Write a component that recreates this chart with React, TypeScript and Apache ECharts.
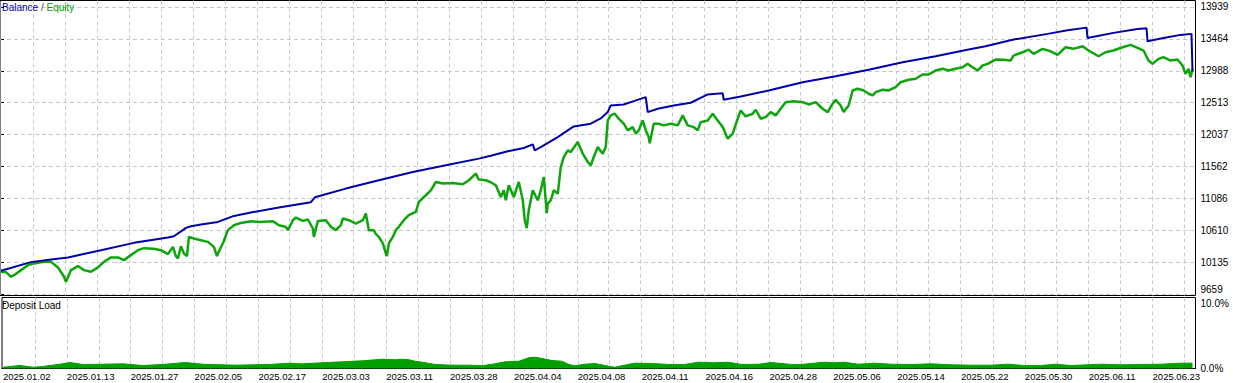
import React, { useEffect, useRef } from "react";
import * as echarts from "echarts";

const FONT = "'Liberation Sans', Arial, sans-serif";

// Date tick labels along the trade-index axis (one label every LABEL_STEP bars)
const dateLabels = [
  "2025.01.02", "2025.01.13", "2025.01.27", "2025.02.05", "2025.02.17",
  "2025.03.03", "2025.03.11", "2025.03.28", "2025.04.04", "2025.04.08",
  "2025.04.11", "2025.04.16", "2025.04.28", "2025.05.06", "2025.05.14",
  "2025.05.22", "2025.05.30", "2025.06.11", "2025.06.23",
];
const LABEL_STEP = 64;
const GRID_STEP = 32;
const X_MAX = 1195;

const balanceTicks = [9659, 10135, 10610, 11086, 11562, 12037, 12513, 12988, 13464, 13939];
const loadTicks = [0, 10];

// [bar index, balance]
const balance: [number, number][] = [
  [0, 10010], [30, 10139], [50, 10179], [67, 10209], [100, 10317], [133, 10426],
  [167, 10506], [173, 10525], [177, 10566], [182, 10615], [185, 10649], [190, 10674],
  [200, 10699], [217, 10738], [233, 10827], [250, 10878], [278, 10952], [310, 11031],
  [314, 11105], [345, 11234], [378, 11358], [412, 11481], [445, 11581], [478, 11680],
  [490, 11722], [507, 11789], [523, 11838], [532, 11893], [534, 11803], [540, 11853],
  [557, 12001], [567, 12101], [573, 12160], [590, 12200], [600, 12279], [607, 12373],
  [610, 12472], [623, 12487], [633, 12536], [645, 12596], [647, 12373], [657, 12423],
  [673, 12472], [690, 12512], [707, 12636], [722, 12655], [723, 12557], [740, 12606],
  [768, 12695], [802, 12818], [835, 12908], [868, 13003], [902, 13116], [935, 13205],
  [968, 13304], [985, 13354], [1013, 13453], [1047, 13538], [1067, 13591], [1086, 13631],
  [1087, 13478], [1113, 13553], [1137, 13612], [1146, 13621], [1147, 13428], [1163, 13478],
  [1180, 13523], [1191, 13538], [1192, 12978],
];

// [bar index, equity]
const equity: [number, number][] = [
  [0, 9995], [5, 9990], [10, 9921], [13, 9945], [20, 10020], [27, 10094], [33, 10120],
  [43, 10144], [50, 10144], [57, 10060], [63, 9921], [65, 9846], [70, 10020], [77, 10080],
  [83, 10020], [90, 9995], [97, 10060], [103, 10144], [110, 10209], [117, 10209], [123, 10169],
  [130, 10243], [137, 10317], [143, 10347], [153, 10337], [160, 10317], [167, 10258],
  [172, 10366], [175, 10228], [177, 10194], [180, 10376], [183, 10268], [186, 10228],
  [188, 10515], [193, 10491], [200, 10466], [207, 10441], [213, 10366], [216, 10228],
  [217, 10268], [222, 10421], [227, 10615], [233, 10689], [240, 10723], [250, 10748],
  [258, 10738], [272, 10748], [278, 10689], [285, 10664], [287, 10615], [292, 10763],
  [295, 10803], [302, 10753], [307, 10774], [312, 10640], [313, 10515], [317, 10753],
  [325, 10763], [330, 10664], [335, 10615], [340, 10689], [342, 10788], [348, 10763],
  [355, 10714], [362, 10763], [365, 10863], [368, 10615], [373, 10615], [375, 10555],
  [378, 10515], [382, 10417], [385, 10268], [386, 10228], [388, 10417], [392, 10515],
  [395, 10615], [398, 10664], [403, 10763], [408, 10838], [415, 10887], [418, 11035],
  [425, 11135], [430, 11209], [435, 11332], [442, 11309], [452, 11318], [462, 11298],
  [468, 11358], [475, 11457], [478, 11368], [485, 11358], [490, 11328], [495, 11283],
  [500, 11109], [503, 11209], [505, 11060], [508, 11283], [513, 11109], [518, 11332],
  [522, 11060], [524, 10763], [526, 10644], [528, 10912], [532, 11209], [537, 11060],
  [540, 11209], [543, 11407], [546, 10867], [547, 11011], [550, 11060], [553, 11209],
  [557, 11160], [560, 11555], [563, 11704], [567, 11803], [570, 11778], [577, 11927],
  [582, 11754], [587, 11630], [590, 11581], [593, 11704], [597, 11853], [602, 11754],
  [605, 11853], [607, 12249], [610, 12324], [614, 12349], [618, 12275], [623, 12200],
  [627, 12101], [632, 12150], [635, 12052], [638, 12101], [642, 12249], [645, 12101],
  [648, 12001], [649, 11908], [653, 12200], [658, 12200], [663, 12175], [670, 12200],
  [677, 12175], [682, 12324], [687, 12175], [693, 12150], [697, 12101], [700, 12224],
  [707, 12249], [712, 12349], [717, 12249], [722, 12150], [727, 11977], [732, 12052],
  [737, 12275], [740, 12398], [745, 12309], [752, 12349], [755, 12408], [760, 12275],
  [765, 12298], [770, 12373], [775, 12324], [780, 12423], [785, 12521], [793, 12536],
  [802, 12521], [808, 12487], [815, 12521], [822, 12423], [827, 12373], [832, 12498],
  [835, 12557], [840, 12472], [843, 12373], [848, 12472], [852, 12695], [857, 12720],
  [863, 12695], [868, 12646], [872, 12621], [875, 12670], [882, 12706], [888, 12695],
  [895, 12744], [900, 12818], [908, 12854], [915, 12869], [922, 12933], [928, 12933],
  [935, 12992], [942, 13018], [948, 12992], [955, 13018], [962, 13041], [967, 13092],
  [972, 13041], [977, 12992], [982, 13067], [987, 13092], [995, 13156], [1003, 13151],
  [1010, 13141], [1013, 13215], [1022, 13264], [1028, 13304], [1033, 13241], [1042, 13315],
  [1050, 13279], [1057, 13226], [1065, 13339], [1073, 13315], [1082, 13354], [1088, 13290],
  [1098, 13205], [1105, 13264], [1113, 13290], [1122, 13339], [1130, 13374], [1137, 13330],
  [1143, 13290], [1148, 13141], [1152, 13092], [1158, 13166], [1163, 13190], [1170, 13141],
  [1177, 13156], [1182, 13067], [1185, 12943], [1188, 13018], [1190, 12893], [1192, 13018],
];

// [bar index, deposit load %]
const depositLoad: [number, number][] = [
  [0, 0.2], [17, 0.46], [30, 0.2], [40, 0.31], [60, 0.72], [67, 0.92], [80, 0.62],
  [100, 0.66], [120, 0.72], [140, 0.46], [160, 0.62], [183, 0.92], [200, 0.66], [233, 0.51],
  [267, 0.62], [287, 0.82], [300, 0.72], [320, 0.88], [340, 1.03], [360, 1.18], [380, 1.43],
  [393, 1.34], [400, 1.43], [407, 1.34], [413, 1.12], [420, 0.97], [433, 0.62], [450, 0.51],
  [467, 0.51], [480, 0.42], [493, 0.72], [503, 1.03], [517, 1.12], [527, 1.65], [533, 1.74],
  [540, 1.54], [550, 1.23], [560, 1.12], [567, 0.62], [573, 0.42], [583, 0.66], [593, 0.77],
  [607, 0.35], [613, 0.2], [620, 0.42], [633, 0.82], [650, 0.77], [667, 0.62], [683, 0.62],
  [697, 0.97], [713, 0.88], [727, 0.97], [740, 0.62], [757, 0.66], [770, 0.92], [790, 0.62],
  [800, 0.62], [813, 0.82], [823, 0.97], [833, 0.88], [843, 0.97], [857, 0.66], [873, 0.82],
  [890, 0.66], [910, 0.62], [930, 0.72], [950, 0.57], [970, 0.51], [990, 0.51], [1007, 0.66],
  [1023, 0.46], [1040, 0.46], [1055, 0.66], [1070, 0.46], [1100, 0.66], [1120, 0.57],
  [1140, 0.62], [1160, 0.66], [1180, 0.82], [1192, 0.82],
];

const gridXs: number[] = [];
for (let x = GRID_STEP; x < X_MAX; x += GRID_STEP) gridXs.push(x);
const labelXs = dateLabels.map((_, i) => i * LABEL_STEP);
const upperTicks = balanceTicks.slice(1);
const lowestTick = balanceTicks.slice(0, 1);

const gridLine = { show: true, lineStyle: { color: "#C8C8C8", type: [4, 3] as any, width: 1 } };
const axisText = { fontSize: 10, color: "#000", fontFamily: FONT };
const Y_MIN = 9642;
const Y_MAX = 14035;

export default function App() {
  const ref = useRef<HTMLDivElement>(null);
  useEffect(() => {
    document.body.style.margin = "0";
    if (!ref.current) return;
    const chart = echarts.init(ref.current, undefined, { renderer: "svg" });
    chart.setOption({
      animation: false,
      backgroundColor: "#fff",
      title: [
        {
          left: 2,
          top: 2,
          padding: 0,
          text: "{b|Balance} {s|/} {e|Equity}",
          textStyle: {
            fontSize: 10,
            fontFamily: FONT,
            fontWeight: "normal",
            rich: {
              b: { color: "#0000A0", fontSize: 10, fontFamily: FONT },
              s: { color: "#444", fontSize: 10, fontFamily: FONT },
              e: { color: "#00A000", fontSize: 10, fontFamily: FONT },
            },
          },
        },
        {
          left: 2,
          top: 300,
          padding: 0,
          text: "Deposit Load",
          textStyle: { fontSize: 10, fontFamily: FONT, fontWeight: "normal", color: "#000" },
        },
      ],
      grid: [
        { left: -0.5, top: 0.5, width: 1196, height: 295, show: true, borderColor: "#000", borderWidth: 1 },
        { left: -0.5, top: 297.5, width: 1196, height: 71, show: true, borderColor: "#000", borderWidth: 1 },
      ],
      xAxis: [
        {
          type: "value",
          gridIndex: 0,
          min: -1,
          max: X_MAX,
          axisLine: { show: false },
          axisTick: { show: false, customValues: gridXs },
          axisLabel: { show: false },
          splitLine: gridLine,
        },
        {
          type: "value",
          gridIndex: 1,
          min: -1,
          max: X_MAX,
          axisLine: { show: true, onZero: false, lineStyle: { color: "#000", width: 1 } },
          axisTick: { show: false, customValues: gridXs },
          axisLabel: {
            ...axisText,
            fontSize: 9.5,
            customValues: labelXs,
            align: "left",
            margin: 3,
            formatter: (v: number) => dateLabels[Math.round(v / LABEL_STEP)] ?? "",
          },
          splitLine: gridLine,
        },
      ],
      yAxis: [
        {
          type: "value",
          gridIndex: 0,
          position: "right",
          min: Y_MIN,
          max: Y_MAX,
          axisLine: { show: false },
          axisTick: { show: true, length: 3, customValues: balanceTicks, lineStyle: { color: "#000" } },
          axisLabel: { ...axisText, customValues: upperTicks, margin: 5, formatter: (v: number) => String(v) },
          splitLine: gridLine,
        },
        {
          type: "value",
          gridIndex: 1,
          position: "right",
          min: 0,
          max: 10.92,
          axisLine: { show: false },
          axisTick: { show: true, length: 3, customValues: loadTicks, lineStyle: { color: "#000" } },
          axisLabel: { ...axisText, customValues: loadTicks, margin: 5, formatter: (v: number) => v.toFixed(1) + "%" },
          splitLine: { show: false },
        },
        {
          type: "value",
          gridIndex: 0,
          position: "right",
          min: Y_MIN,
          max: Y_MAX,
          axisLine: { show: false },
          axisTick: { show: false, customValues: lowestTick },
          axisLabel: {
            ...axisText,
            customValues: lowestTick,
            margin: 5,
            verticalAlign: "bottom",
            formatter: (v: number) => String(v),
          },
          splitLine: { show: false },
        },
      ],
      series: [
        {
          type: "line",
          name: "Equity",
          xAxisIndex: 0,
          yAxisIndex: 0,
          data: equity,
          showSymbol: false,
          lineStyle: { color: "#0CA60C", width: 2.5 },
          itemStyle: { color: "#0CA60C" },
          z: 2,
        },
        {
          type: "line",
          name: "Balance",
          xAxisIndex: 0,
          yAxisIndex: 0,
          data: balance,
          showSymbol: false,
          lineStyle: { color: "#0000A8", width: 2 },
          itemStyle: { color: "#0000A8" },
          z: 3,
        },
        {
          type: "line",
          name: "Deposit Load",
          xAxisIndex: 1,
          yAxisIndex: 1,
          data: depositLoad,
          showSymbol: false,
          lineStyle: { color: "#00A000", width: 1 },
          areaStyle: { color: "#00A000", opacity: 1 },
          itemStyle: { color: "#00A000" },
        },
      ],
    });
    return () => chart.dispose();
  }, []);
  return <div ref={ref} style={{ width: 1233, height: 383 }} />;
}
